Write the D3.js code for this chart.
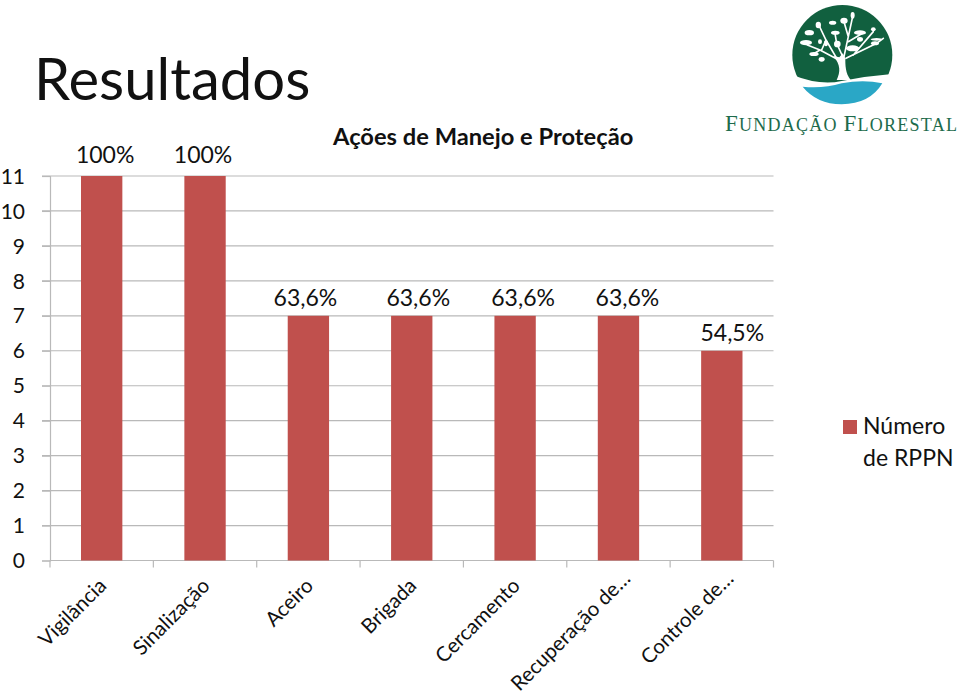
<!DOCTYPE html>
<html><head><meta charset="utf-8">
<script src="https://cdn.jsdelivr.net/npm/d3@7/dist/d3.min.js"></script>
<style>html,body{margin:0;background:#fff}svg{display:block}text{font-family:Lato,"Open Sans",sans-serif;fill:#111}</style>
</head><body><div id="c"></div>
<script>
const categories=["Vigilância","Sinalização","Aceiro","Brigada","Cercamento","Recuperação de…","Controle de…"];
const values=[11,11,7,7,7,7,6];
const valueLabels=["100%","100%","63,6%","63,6%","63,6%","63,6%","54,5%"];
const yTicks=[0,1,2,3,4,5,6,7,8,9,10,11];
const seriesName=["Número","de RPPN"];

const svg=d3.select("#c").append("svg").attr("width",960).attr("height",696);
const x=d3.scaleBand().domain(categories).range([50,773.5]).paddingInner(0.6).paddingOuter(0.3);
const step=x.step();
const y=d3.scaleLinear().domain([0,11]).range([560.5,176]);
const grey="#b9b9b9", bar="#c0504d";

svg.append("g").selectAll("line").data(yTicks.filter(d=>d>0)).join("line")
 .attr("x1",42).attr("x2",773.5).attr("y1",d=>y(d)).attr("y2",d=>y(d)).attr("stroke",grey).attr("stroke-width",1.2);
const ya=svg.append("g").attr("transform","translate(50,0)").call(d3.axisLeft(y).tickValues(yTicks).tickSize(8).tickFormat(d3.format("d")));
ya.select(".domain").attr("stroke",grey).attr("stroke-width",1.2);
ya.selectAll(".tick line").attr("stroke",grey).attr("stroke-width",1.2);
ya.selectAll("text").attr("x",-25).attr("dy","0.34em").style("font-size","21px").style("font-family","Lato");

const xa=svg.append("g").attr("transform","translate(0,560.5)");
xa.append("line").attr("x1",50).attr("x2",773.5).attr("stroke",grey).attr("stroke-width",1.2);
xa.selectAll(".t").data(d3.range(categories.length+1)).join("line").attr("class","t")
 .attr("x1",i=>50+i*step).attr("x2",i=>50+i*step).attr("y1",0).attr("y2",7).attr("stroke",grey).attr("stroke-width",1.2);

svg.append("g").selectAll("rect").data(categories).join("rect")
 .attr("x",d=>x(d)).attr("width",x.bandwidth()).attr("y",(d,i)=>y(values[i])).attr("height",(d,i)=>y(0)-y(values[i])).attr("fill",bar);

const labelNudge=[3.5,-2,-3,6.5,8,9,10.5];
const labelGap=[13,13,9.5,9.5,9.5,9.5,10];
svg.append("g").selectAll("text").data(categories).join("text")
 .attr("x",(d,i)=>x(d)+x.bandwidth()/2+labelNudge[i]).attr("y",(d,i)=>y(values[i])-labelGap[i])
 .attr("text-anchor","middle").style("font-size","23px").text((d,i)=>valueLabels[i]);

const catNudge=[0,0,0,0,0,10,10];
svg.append("g").selectAll("text").data(categories).join("text")
 .attr("text-anchor","end").style("font-size","20.5px").attr("dx",(d,i)=>catNudge[i])
 .attr("transform",d=>`translate(${x(d)+x.bandwidth()/2+6},587) rotate(-45)`).text(d=>d);

svg.append("text").attr("x",34).attr("y",100).style("font-size","58px").text("Resultados");
svg.append("text").attr("x",333).attr("y",145).style("font-size","23.7px").style("font-weight","700").text("Ações de Manejo e Proteção");

svg.append("rect").attr("x",843).attr("y",420).attr("width",14).attr("height",14).attr("fill",bar);
svg.append("g").selectAll("text").data(seriesName).join("text").attr("x",863).attr("y",(d,i)=>434+i*32).style("font-size","23px").text(d=>d);

// logo (decorative), drawn in 3x crop coordinates
const logo=svg.append("g").attr("transform","translate(720,0) scale(0.3333)");
const green="#11603f", blue="#2aa7c6";
logo.append("circle").attr("cx",367).attr("cy",165).attr("r",150).attr("fill",green);
logo.append("path").attr("d","M218,225 Q300,258 365,243 Q440,228 516,222 L504,250 Q480,290 400,318 L330,318 Q270,300 236,262 Z").attr("fill","#fff");
logo.append("path").attr("d","M248,260 Q310,266 365,250 Q430,238 487,250 Q450,312 365,313 Q290,312 248,260 Z").attr("fill",blue);
const tree=logo.append("g").attr("stroke","#fff").attr("fill","none").attr("stroke-linecap","round");
tree.append("path").attr("stroke-width",5).attr("d","M352,178 L300,150 L262,135 M352,178 L318,120 L295,72 M318,120 L305,150 M366,165 L350,130 L345,100 M372,170 L385,110 L398,50 M385,110 L372,65 M385,125 L430,98 M378,175 L470,130 L490,115 M400,165 L460,95 M300,150 L275,165");
logo.append("path").attr("d","M350,240 C362,215 362,195 340,168 L358,172 L368,160 L376,175 C376,195 376,220 392,240 Z").attr("fill","#fff");
[[268,98,14,8],[295,75,8,10],[338,68,11,6],[346,98,13,6],[372,62,11,9],[398,46,6,10],[420,98,18,7],[460,88,7,6],[258,128,18,8],[282,162,14,6],[305,178,9,7],[318,130,6,9],[352,132,10,10],[398,145,20,9],[420,118,9,7],[465,130,12,6],[300,125,6,7],[470,118,18,4]]
 .forEach(c=>logo.append("ellipse").attr("cx",c[0]).attr("cy",c[1]).attr("rx",c[2]).attr("ry",c[3]).attr("fill","#fff"));
const lt=svg.append("text").attr("x",725).attr("y",131).style("font-family","'Liberation Serif'").style("letter-spacing","1.25px");
[["F",23],["UNDAÇÃO ",18],["F",23],["LORESTAL",18]].forEach(p=>lt.append("tspan").style("font-size",p[1]+"px").style("fill","#1d6b4c").style("font-family","'Liberation Serif'").text(p[0]));
</script></body></html>
